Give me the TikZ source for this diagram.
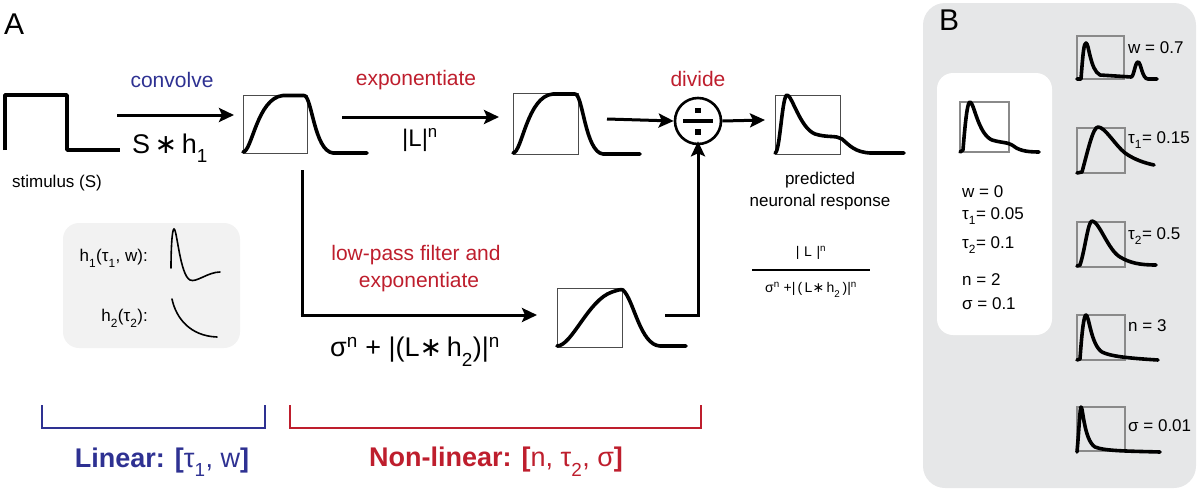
\documentclass[tikz,border=0pt]{standalone}
\usepackage{fontspec}
\setmainfont{Liberation Sans}
\newfontfamily\djv{DejaVu Sans}
\usetikzlibrary{arrows.meta}
\definecolor{myblue}{HTML}{2E3192}
\definecolor{myred}{HTML}{BE1E2D}
\definecolor{panelgray}{HTML}{E6E7E8}
\definecolor{boxgray}{HTML}{F2F2F2}
\definecolor{rectgray}{HTML}{8A8A8A}
\newcommand{\fs}[1]{\fontsize{#1}{#1}\selectfont}
\newcommand{\myast}{{\djv ∗}}
\newcommand{\dn}[1]{\raisebox{-0.35ex}{\textsubscript{#1}}}
\begin{document}
\begin{tikzpicture}[x=1pt,y=-1pt,
  arr/.style={line width=3pt,-{Stealth[length=15pt,width=14pt,inset=3pt]}},
  conn/.style={line width=3pt},
  curve/.style={line width=3.6pt,line cap=round,line join=round},
  thinrect/.style={draw=black!70,line width=1pt},
  brect/.style={draw=rectgray,line width=1.6pt},
  lbl/.style={inner sep=0pt,font=\fs{21}},
  small/.style={inner sep=0pt,font=\fs{17}},
  tiny/.style={inner sep=0pt,font=\fs{14}},
]
\useasboundingbox (0,0) rectangle (1200,493);

% ---------- Panel A ----------
\node[inner sep=0pt,font=\fs{30},anchor=north west] (A) at (4,14) {A};

% stimulus
\draw[curve,line cap=butt] (5,150) -- (5,95) -- (67,95) -- (67,150) -- (120,150);
\node[small] (stimlbl) at (57,183) {stimulus (S)};

% convolve arrow
\coordinate (c1s) at (117,115);
\coordinate (c1e) at (234,115);
\draw[arr] (c1s) -- (c1e);
\node[lbl,text=myblue] (convlbl) at (172,80) {convolve};
\node[inner sep=0pt,font=\fs{27}] (sh) at (170,148) {S\,\myast\,h\dn{1}};

% box 1 (convolved)
\draw[thinrect] (243,95) rectangle (307,153);
\draw[curve] (243,152) .. controls (252,152) and (257,98) .. (283,95.5) -- (304,95.5)
  .. controls (312,95.5) and (314,151) .. (333,153) -- (367,153);

% exponentiate arrow
\coordinate (c2s) at (342,117);
\coordinate (c2e) at (499,117);
\draw[arr] (c2s) -- (c2e);
\node[lbl,text=myred] (explbl) at (416,80) {exponentiate};
\node[inner sep=0pt,font=\fs{24}] (ln) at (420,140) {|L|\textsuperscript{n}};

% box 2
\draw[thinrect] (513,93) rectangle (578,154);
\draw[curve] (513,153) .. controls (522,153) and (527,96) .. (553,94) -- (575,94)
  .. controls (583,94) and (585,152) .. (603,154) -- (640,154);

% divide
\node[draw,circle,line width=2.6pt,minimum size=46pt,inner sep=0pt] (div) at (698,121) {};
\draw[line width=3.2pt] ([xshift=-15pt]div.center) -- ([xshift=15pt]div.center);
\fill ([shift={(-2.8,-13.5)}]div.center) rectangle ([shift={(2.8,-8)}]div.center);
\fill ([shift={(-2.8,8)}]div.center) rectangle ([shift={(2.8,13.5)}]div.center);
\node[lbl,text=myred] (divlbl) at (698,79) {divide};
\coordinate (c3s) at (607,119);
\draw[arr] (c3s) -- (div.west);
\coordinate (c4e) at (765,120);
\draw[arr] (div.east) -- (c4e);

% box 3 (response)
\draw[thinrect] (775,95) rectangle (840,154);
\draw[curve] (775,153) .. controls (780,153) and (782,95) .. (787,95)
  .. controls (792,95) and (800,128) .. (815,134)
  .. controls (828,138) and (836,135) .. (842,139)
  .. controls (850,146) and (855,152) .. (870,153) -- (904,153);
\node[small] (pred1) at (820,180) {predicted};
\node[small] (pred2) at (820,202) {neuronal response};

% fraction
\node[tiny] (num) at (811,253) {|\,\,L\,\,|\textsuperscript{n}};
\coordinate (fl) at (752,270);
\coordinate (fr) at (870,270);
\draw[line width=1.2pt] (fl) -- (fr);
\node[tiny] (den) at (811,290) {σ\textsuperscript{n} +|\,(\,L\myast\,h\dn{2}\,)|\textsuperscript{n}};

% branch to low-pass
\coordinate (b1) at (302,170);
\coordinate (b2) at (302,315);
\coordinate (b3) at (537,315);
\draw[conn] (b1) -- (b2);
\draw[arr] ([xshift=-1.5pt]b2) -- (b3);
\node[lbl,text=myred] (lp1) at (416,255) {low-pass filter and};
\node[lbl,text=myred] (lp2) at (419,282) {exponentiate};
\node[inner sep=0pt,font=\fs{27}] (sig) at (415,352) {σ\textsuperscript{n} + |(L\myast\,h\dn{2})|\textsuperscript{n}};

% box 4
\draw[thinrect] (557,288) rectangle (622,347);
\draw[curve] (557,346) .. controls (572,346) and (588,300) .. (612,292)
  .. controls (618,290) and (621,289) .. (623,290)
  .. controls (634,300) and (640,345) .. (660,346) -- (686,346);

% back up to divide
\coordinate (u1) at (665,315);
\coordinate (u2) at (698,315);
\draw[conn] (u1) -- ([xshift=1.5pt]u2);
\draw[arr] (u2) -- ([yshift=4pt]div.south);

% kernel box
\draw[fill=boxgray,draw=none,rounded corners=16pt] (63,223) rectangle (240,348);
\node[small,anchor=east] (h1lbl) at (148,258) {h\dn{1}(τ\dn{1}, w):};
\node[small,anchor=east] (h2lbl) at (148,318) {h\dn{2}(τ\dn{2}):};
\draw[line width=1.6pt,line cap=round] (171,268) .. controls (171,250) and (172,229) .. (174,229)
  .. controls (177,229) and (180,275) .. (190,280)
  .. controls (196,283) and (208,272) .. (220,272);
\draw[line width=1.6pt,line cap=round] (172,299) .. controls (176,318) and (190,336) .. (217,337);

% brackets
\draw[myblue,line width=2.2pt] (42,405) -- (42,428) -- (265,428) -- (265,405);
\draw[myred,line width=2.2pt] (290,405) -- (290,428) -- (701,428) -- (701,405);
\node[inner sep=0pt,font=\fs{27},text=myblue] (linlbl) at (162,462) {\textbf{Linear: [}τ\dn{1}, w\textbf{]}};
\node[inner sep=0pt,font=\fs{27},text=myred] (nllbl) at (496,462) {\textbf{Non-linear: [}n, τ\dn{2}, σ\textbf{]}};

% ---------- Panel B ----------
\draw[fill=panelgray,draw=none,rounded corners=22pt] (923,3) rectangle (1196,488);
\node[inner sep=0pt,font=\fs{30},anchor=north west] (B) at (939,10) {B};
\draw[fill=white,draw=none,rounded corners=16pt] (937,73) rectangle (1052,335);

% default response
\draw[brect] (960,102) rectangle (1009,152);
\draw[curve] (960,152) -- (963,150) .. controls (966,112) and (968,102) .. (970,102)
  .. controls (974,102) and (978,134) .. (992,140)
  .. controls (1002,143) and (1007,142) .. (1012,145)
  .. controls (1018,150) and (1025,152) .. (1039,152);
\node[small,anchor=west] (p1) at (962,192) {w = 0};
\node[small,anchor=west] (p2) at (962,216) {τ\dn{1}= 0.05};
\node[small,anchor=west] (p3) at (962,245) {τ\dn{2}= 0.1};
\node[small,anchor=west] (p4) at (962,280) {n = 2};
\node[small,anchor=west] (p5) at (962,304) {σ = 0.1};

% w = 0.7
\draw[brect] (1077,36) rectangle (1124,79);
\draw[curve] (1077,79) -- (1081,79) .. controls (1083,52) and (1084,43) .. (1086,43)
  .. controls (1089,43) and (1090,70) .. (1100,75) -- (1131,77)
  .. controls (1134,77) and (1135,62) .. (1138,62)
  .. controls (1141,62) and (1142,79) .. (1148,79) -- (1157,79);
\node[small,anchor=west] (l1) at (1128,48) {w = 0.7};

% tau1 = 0.15
\draw[brect] (1077,128) rectangle (1125,173);
\draw[curve] (1077,173) -- (1082,172) .. controls (1088,150) and (1093,127) .. (1098,127)
  .. controls (1105,127) and (1115,145) .. (1125,153)
  .. controls (1135,160) and (1145,163) .. (1154,165);
\node[small,anchor=west] (l2) at (1128,140) {τ\dn{1}= 0.15};

% tau2 = 0.5
\draw[brect] (1077,222) rectangle (1125,267);
\draw[curve] (1077,266) -- (1080,265) .. controls (1085,250) and (1088,221) .. (1092,221)
  .. controls (1099,221) and (1108,250) .. (1120,257)
  .. controls (1130,263) and (1140,265) .. (1156,265);
\node[small,anchor=west] (l3) at (1128,236) {τ\dn{2}= 0.5};

% n = 3
\draw[brect] (1077,315) rectangle (1125,360);
\draw[curve] (1077,360) -- (1080,359) .. controls (1082,330) and (1084,315) .. (1086,315)
  .. controls (1089,315) and (1091,345) .. (1102,352)
  .. controls (1110,356) and (1125,358) .. (1158,360);
\node[small,anchor=west] (l4) at (1128,326) {n = 3};

% sigma = 0.01
\draw[brect] (1077,407) rectangle (1125,451);
\draw[curve] (1077,452) .. controls (1079,430) and (1080,407) .. (1081,407)
  .. controls (1083,407) and (1084,440) .. (1095,447)
  .. controls (1105,451) and (1125,451) .. (1160,452);
\node[small,anchor=west] (l5) at (1128,426) {σ = 0.01};
\end{tikzpicture}
\end{document}
